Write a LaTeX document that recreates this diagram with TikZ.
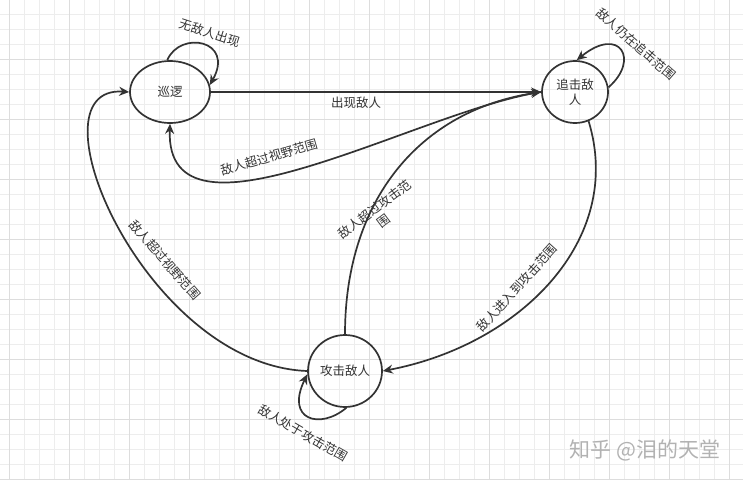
\documentclass[tikz,border=0pt]{standalone}
\usepackage{fontspec}
\newfontfamily\cjk{Noto Sans CJK SC}
\usetikzlibrary{arrows.meta, shapes.geometric}
\definecolor{ink}{HTML}{333333}
\definecolor{gridminor}{HTML}{EDEDED}
\definecolor{gridmajor}{HTML}{DDDDDD}

\begin{document}
\begin{tikzpicture}[x=1pt, y=-1pt, state/.style = {draw=ink, ellipse, line width=1.7pt, inner sep=0pt, font=\cjk\fontsize{12.5}{15}\selectfont, text=ink, align=center}, link/.style = {draw=ink, line width=1.7pt, -{Stealth[length=10pt, width=9pt]}}, lbl/.style = {font=\cjk\fontsize{12.5}{15}\selectfont, text=ink, inner sep=0pt, align=center}]
    \useasboundingbox (0,0) rectangle (743,479);
    \fill[white] (0,0) rectangle (743,479);
    % grid paper
    \foreach \x in {9,24,...,743} \draw[gridminor, line width=0.6pt] (\x,0) -- (\x,479);
    \foreach \y in {14,29,...,479} \draw[gridminor, line width=0.6pt] (0,\y) -- (743,\y);
    \foreach \x in {9,69,...,743} \draw[gridmajor, line width=0.6pt] (\x,0) -- (\x,479);
    \foreach \y in {59,119,...,479} \draw[gridmajor, line width=0.6pt] (0,\y) -- (743,\y);
    % states
    \node[state, minimum width=80pt, minimum height=62pt] (Pat) at (170,92) {巡逻};
    \node[state, minimum width=66pt, minimum height=62pt] (Chs) at (575,92) {追击敌\\人};
    \node[state, minimum width=74pt, minimum height=72pt] (Atk) at (345,371) {攻击敌人};
    % transitions
    \draw[link] (Pat.95) .. controls (180,30) and (235,40) .. (Pat.10);
    \draw[link] (Pat.east) -- (Chs.west);
    \draw[link] (Chs.west) .. controls (420,110) and (165,260) .. (Pat.south);
    \draw[link] (Atk.north) .. controls (345,200) and (420,110) .. (Chs.west);
    \draw[link] (Chs.-65) .. controls (625,240) and (520,345) .. (Atk.east);
    \draw[link] (Atk.west) .. controls (145,365) and (25,85) .. (Pat.west);
    \draw[link] (Chs.8) .. controls (640,60) and (620,25) .. (Chs.87);
    \draw[link] (Atk.-88) .. controls (320,430) and (285,420) .. (Atk.185);
    % labels
    \node[lbl, rotate=-18] (L1) at (210,33) {无敌人出现};
    \node[lbl] (L2) at (356,103) {出现敌人};
    \node[lbl, rotate=16] (L3) at (269,157) {敌人超过视野范围};
    \node[lbl, rotate=37] (L4) at (379,215) {敌人超过攻击范\\围};
    \node[lbl, rotate=48] (L5) at (517,288) {敌人进入到攻击范围};
    \node[lbl, rotate=-49] (L6) at (165,260) {敌人超过视野范围};
    \node[lbl, rotate=-30] (L7) at (303,433) {敌人处于攻击范围};
    \node[lbl, rotate=-41] (L8) at (636,44) {敌人仍在追击范围};
    \node[font=\cjk\fontsize{21}{24}\selectfont, text=gray!60] (mark) at (645,450) {知乎 @泪的天堂};
\end{tikzpicture}
\end{document}
